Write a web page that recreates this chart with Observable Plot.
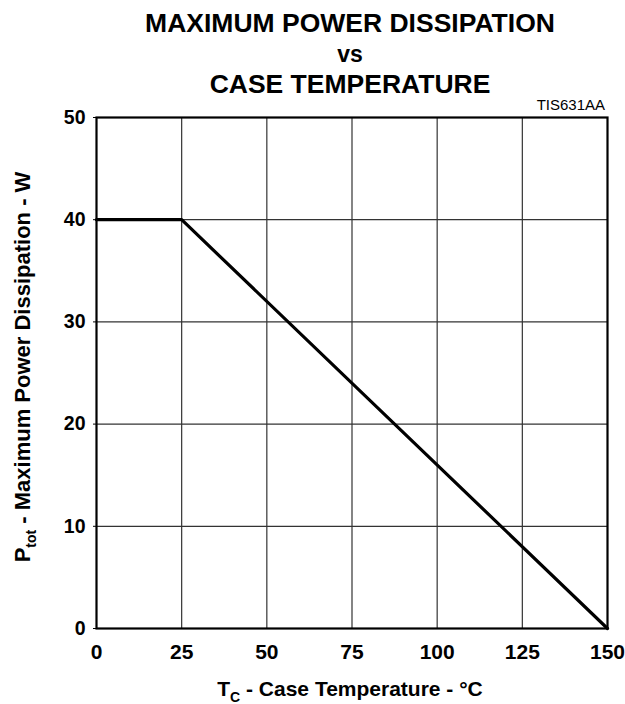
<!DOCTYPE html>
<html>
<head>
<meta charset="utf-8">
<script src="https://cdn.jsdelivr.net/npm/d3@7"></script>
<script src="https://cdn.jsdelivr.net/npm/@observablehq/plot@0.6"></script>
<style>
  html, body { margin: 0; padding: 0; background: #fff; }
  svg { display: block; }
</style>
</head>
<body>
<div id="chart"></div>
<script>
// Data
const tempC = [0, 25, 150];
const powerW = [40, 40, 0];
const xTicks = [0, 25, 50, 75, 100, 125, 150];
const yTicks = [0, 10, 20, 30, 40, 50];
const titleLines = ["MAXIMUM POWER DISSIPATION", "vs", "CASE TEMPERATURE"];
const figureId = "TIS631AA";

const data = tempC.map((t, i) => ({t, p: powerW[i]}));
const FONT = "'Liberation Sans', Arial, Helvetica, sans-serif";

const W = 625, H = 704;
const M = {top: 117, right: 18, bottom: 76, left: 96};

const svg = Plot.plot({
  width: W,
  height: H,
  marginTop: M.top,
  marginRight: M.right,
  marginBottom: M.bottom,
  marginLeft: M.left,
  style: {fontFamily: FONT, background: "#fff", color: "#000"},
  x: {domain: [0, 150]},
  y: {domain: [0, 50]},
  marks: [
    Plot.ruleX(xTicks.slice(1, -1), {stroke: "#333", strokeWidth: 1.2}),
    Plot.ruleY(yTicks.slice(1, -1), {stroke: "#333", strokeWidth: 1.2}),
    Plot.axisX({ticks: xTicks, tickSize: 0, tickPadding: 16, fontSize: 21, fontWeight: "bold", label: null}),
    Plot.axisY({ticks: yTicks, tickSize: 3, tickPadding: 8, fontSize: 19.5, fontWeight: "bold", label: null}),
    Plot.frame({stroke: "#000", strokeWidth: 2.2}),
    Plot.line(data, {x: "t", y: "p", stroke: "#000", strokeWidth: 3.2, strokeLinejoin: "miter"})
  ]
});

document.getElementById("chart").appendChild(svg);
const s = d3.select(svg);

// Title
const titleY = [32, 62, 93];
titleLines.forEach((line, i) => {
  s.append("text")
    .attr("x", 350).attr("y", titleY[i])
    .attr("text-anchor", "middle")
    .attr("font-family", FONT)
    .attr("font-weight", "bold")
    .attr("font-size", i === 1 ? 23 : 26.5)
    .attr("fill", "#000")
    .text(line);
});

// Figure id
s.append("text")
  .attr("x", 605).attr("y", 110)
  .attr("text-anchor", "end")
  .attr("font-family", FONT)
  .attr("font-size", 15)
  .attr("fill", "#000")
  .text(figureId);

// X axis label
const xl = s.append("text")
  .attr("x", 350).attr("y", 696)
  .attr("text-anchor", "middle")
  .attr("font-family", FONT)
  .attr("font-weight", "bold")
  .attr("font-size", 21)
  .attr("fill", "#000");
xl.append("tspan").text("T");
xl.append("tspan").attr("font-size", 14).attr("dy", 6).text("C");
xl.append("tspan").attr("dy", -6).text(" - Case Temperature - °C");

// Y axis label
const yl = s.append("text")
  .attr("transform", `translate(30, 367) rotate(-90)`)
  .attr("text-anchor", "middle")
  .attr("font-family", FONT)
  .attr("font-weight", "bold")
  .attr("font-size", 22)
  .attr("fill", "#000");
yl.append("tspan").text("P");
yl.append("tspan").attr("font-size", 14).attr("dy", 6).text("tot");
yl.append("tspan").attr("dy", -6).text(" - Maximum Power Dissipation - W");
</script>
</body>
</html>
